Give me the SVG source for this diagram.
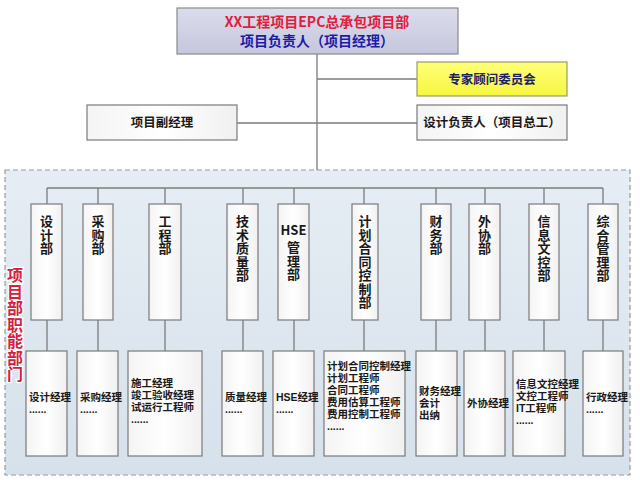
<svg xmlns="http://www.w3.org/2000/svg" width="640" height="480" viewBox="0 0 640 480">
<defs>
<linearGradient id="gTop" x1="0" y1="0" x2="0" y2="1"><stop offset="0" stop-color="#dcdcee"/><stop offset="1" stop-color="#c6c6dc"/></linearGradient>
<linearGradient id="gBox" x1="0" y1="0" x2="1" y2="0"><stop offset="0" stop-color="#f4f4f4"/><stop offset="0.5" stop-color="#ffffff"/><stop offset="1" stop-color="#f0f0f0"/></linearGradient>
<linearGradient id="gYel" x1="0" y1="0" x2="0" y2="1"><stop offset="0" stop-color="#ffff78"/><stop offset="1" stop-color="#f6f640"/></linearGradient>
<linearGradient id="gCont" x1="0" y1="0" x2="0" y2="1"><stop offset="0" stop-color="#e6edf4"/><stop offset="1" stop-color="#d6e1eb"/></linearGradient>
</defs>
<style>
.box{fill:url(#gBox);stroke:#7a7a7a;stroke-width:1.2}
.ln{stroke:#7c7c7c;stroke-width:1.3;fill:none}
.t{font-family:"Noto Sans CJK SC","Liberation Sans",sans-serif;font-weight:bold;fill:#1a1a1a}
.v{font-size:13px;writing-mode:vertical-rl;letter-spacing:0.5px}
.s{font-family:"Liberation Sans","Noto Sans CJK SC",sans-serif;font-weight:bold;fill:#1a1a1a;font-size:10.5px}
.m{font-size:12.5px;text-anchor:middle}
</style>
<rect width="640" height="480" fill="#ffffff"/>
<rect x="5" y="170" width="625" height="305" fill="url(#gCont)" stroke="#9a9a9a" stroke-width="1.2" stroke-dasharray="5,3"/>
<g id="connectors">
<path class="ln" d="M317,54 V170 M317,79 H417 M237,123 H417"/>
<path class="ln" d="M47,188 H603"/>
<path class="ln" d="M47,188 V204 M98,188 V204 M165,188 V204 M243,188 V204 M294,188 V204 M364,188 V204 M436,188 V204 M485,188 V204 M544,188 V204 M603,188 V204"/>
<path class="ln" d="M47,320 V351 M98,320 V351 M165,320 V351 M243,320 V351 M294,320 V351 M364,320 V351 M436,320 V351 M485,320 V351 M544,320 V351 M603,320 V351"/>
</g>
<g id="top">
<rect x="177" y="8" width="281" height="46" fill="url(#gTop)" stroke="#8a8a8a" stroke-width="1.2"/>
<text class="t" x="317" y="27" font-size="14" text-anchor="middle" style="fill:#e0203a">XX工程项目EPC总承包项目部</text>
<text class="t" x="317" y="46" font-size="14" text-anchor="middle" style="fill:#1c1ca8">项目负责人（项目经理）</text>
</g>
<g id="expert">
<rect x="417" y="62" width="150" height="34" fill="url(#gYel)" stroke="#9a9a6a" stroke-width="1.2"/>
<text class="t m" x="492" y="84" style="fill:#20206a">专家顾问委员会</text>
</g>
<g id="deputy">
<rect class="box" x="87" y="105" width="150" height="35"/>
<text class="t m" x="162" y="127">项目副经理</text>
</g>
<g id="design-lead">
<rect class="box" x="417" y="105" width="150" height="35"/>
<text class="t m" x="492" y="127">设计负责人（项目总工）</text>
</g>
<g id="label">
<text class="t" x="15" y="267" font-size="16" letter-spacing="0.5" stroke="#fff" stroke-width="2.5" paint-order="stroke" style="fill:#d42040;writing-mode:vertical-rl">项目部职能部门</text>
</g>
<g id="d1"><rect class="box" x="31" y="204" width="31" height="116"/>
<text class="t v" x="46.5" y="215">设计部</text></g>
<g id="d2"><rect class="box" x="83" y="204" width="30" height="116"/>
<text class="t v" x="98" y="215">采购部</text></g>
<g id="d3"><rect class="box" x="149" y="204" width="32" height="116"/>
<text class="t v" x="165" y="215">工程部</text></g>
<g id="d4"><rect class="box" x="227" y="204" width="31" height="116"/>
<text class="t v" x="242.5" y="215">技术质量部</text></g>
<g id="d5"><rect class="box" x="278" y="204" width="31" height="116"/>
<text class="t" x="293.5" y="235" font-size="13" text-anchor="middle">HSE</text>
<text class="t v" x="293.5" y="241" letter-spacing="1.5">管理部</text></g>
<g id="d6"><rect class="box" x="352" y="204" width="26" height="116"/>
<text class="t v" x="365" y="215" letter-spacing="0">计划合同控制部</text></g>
<g id="d7"><rect class="box" x="421" y="204" width="30" height="116"/>
<text class="t v" x="436" y="215">财务部</text></g>
<g id="d8"><rect class="box" x="469" y="204" width="31" height="116"/>
<text class="t v" x="484.5" y="215">外协部</text></g>
<g id="d9"><rect class="box" x="529" y="204" width="30" height="116"/>
<text class="t v" x="544" y="215">信息文控部</text></g>
<g id="d10"><rect class="box" x="588" y="204" width="30" height="116"/>
<text class="t v" x="603" y="215">综合管理部</text></g>
<g id="r1"><rect class="box" x="26" y="351" width="41" height="105"/>
<text class="s" x="29" y="401"><tspan x="29">设计经理</tspan><tspan x="29" dy="12">......</tspan></text></g>
<g id="r2"><rect class="box" x="77" y="351" width="41" height="105"/>
<text class="s" x="80" y="401"><tspan x="80">采购经理</tspan><tspan x="80" dy="12">......</tspan></text></g>
<g id="r3"><rect class="box" x="128" y="351" width="74" height="105"/>
<text class="s" x="131" y="387"><tspan x="131">施工经理</tspan><tspan x="131" dy="12">竣工验收经理</tspan><tspan x="131" dy="12">试运行工程师</tspan><tspan x="131" dy="12">......</tspan></text></g>
<g id="r4"><rect class="box" x="222" y="351" width="41" height="105"/>
<text class="s" x="225" y="401"><tspan x="225">质量经理</tspan><tspan x="225" dy="12">......</tspan></text></g>
<g id="r5"><rect class="box" x="273" y="351" width="41" height="105"/>
<text class="s" x="276" y="401"><tspan x="276">HSE经理</tspan><tspan x="276" dy="12">......</tspan></text></g>
<g id="r6"><rect class="box" x="324" y="351" width="81" height="105"/>
<text class="s" x="327" y="370"><tspan x="327">计划合同控制经理</tspan><tspan x="327" dy="12">计划工程师</tspan><tspan x="327" dy="12">合同工程师</tspan><tspan x="327" dy="12">费用估算工程师</tspan><tspan x="327" dy="12">费用控制工程师</tspan><tspan x="327" dy="12">......</tspan></text></g>
<g id="r7"><rect class="box" x="416" y="351" width="41" height="105"/>
<text class="s" x="419" y="395"><tspan x="419">财务经理</tspan><tspan x="419" dy="12">会计</tspan><tspan x="419" dy="12">出纳</tspan></text></g>
<g id="r8"><rect class="box" x="464" y="351" width="41" height="105"/>
<text class="s" x="467" y="407">外协经理</text></g>
<g id="r9"><rect class="box" x="513" y="351" width="52" height="105"/>
<text class="s" x="516" y="388"><tspan x="516">信息文控经理</tspan><tspan x="516" dy="12">文控工程师</tspan><tspan x="516" dy="12">IT工程师</tspan><tspan x="516" dy="12">......</tspan></text></g>
<g id="r10"><rect class="box" x="583" y="351" width="40" height="105"/>
<text class="s" x="586" y="401"><tspan x="586">行政经理</tspan><tspan x="586" dy="12">......</tspan></text></g>
</svg>
